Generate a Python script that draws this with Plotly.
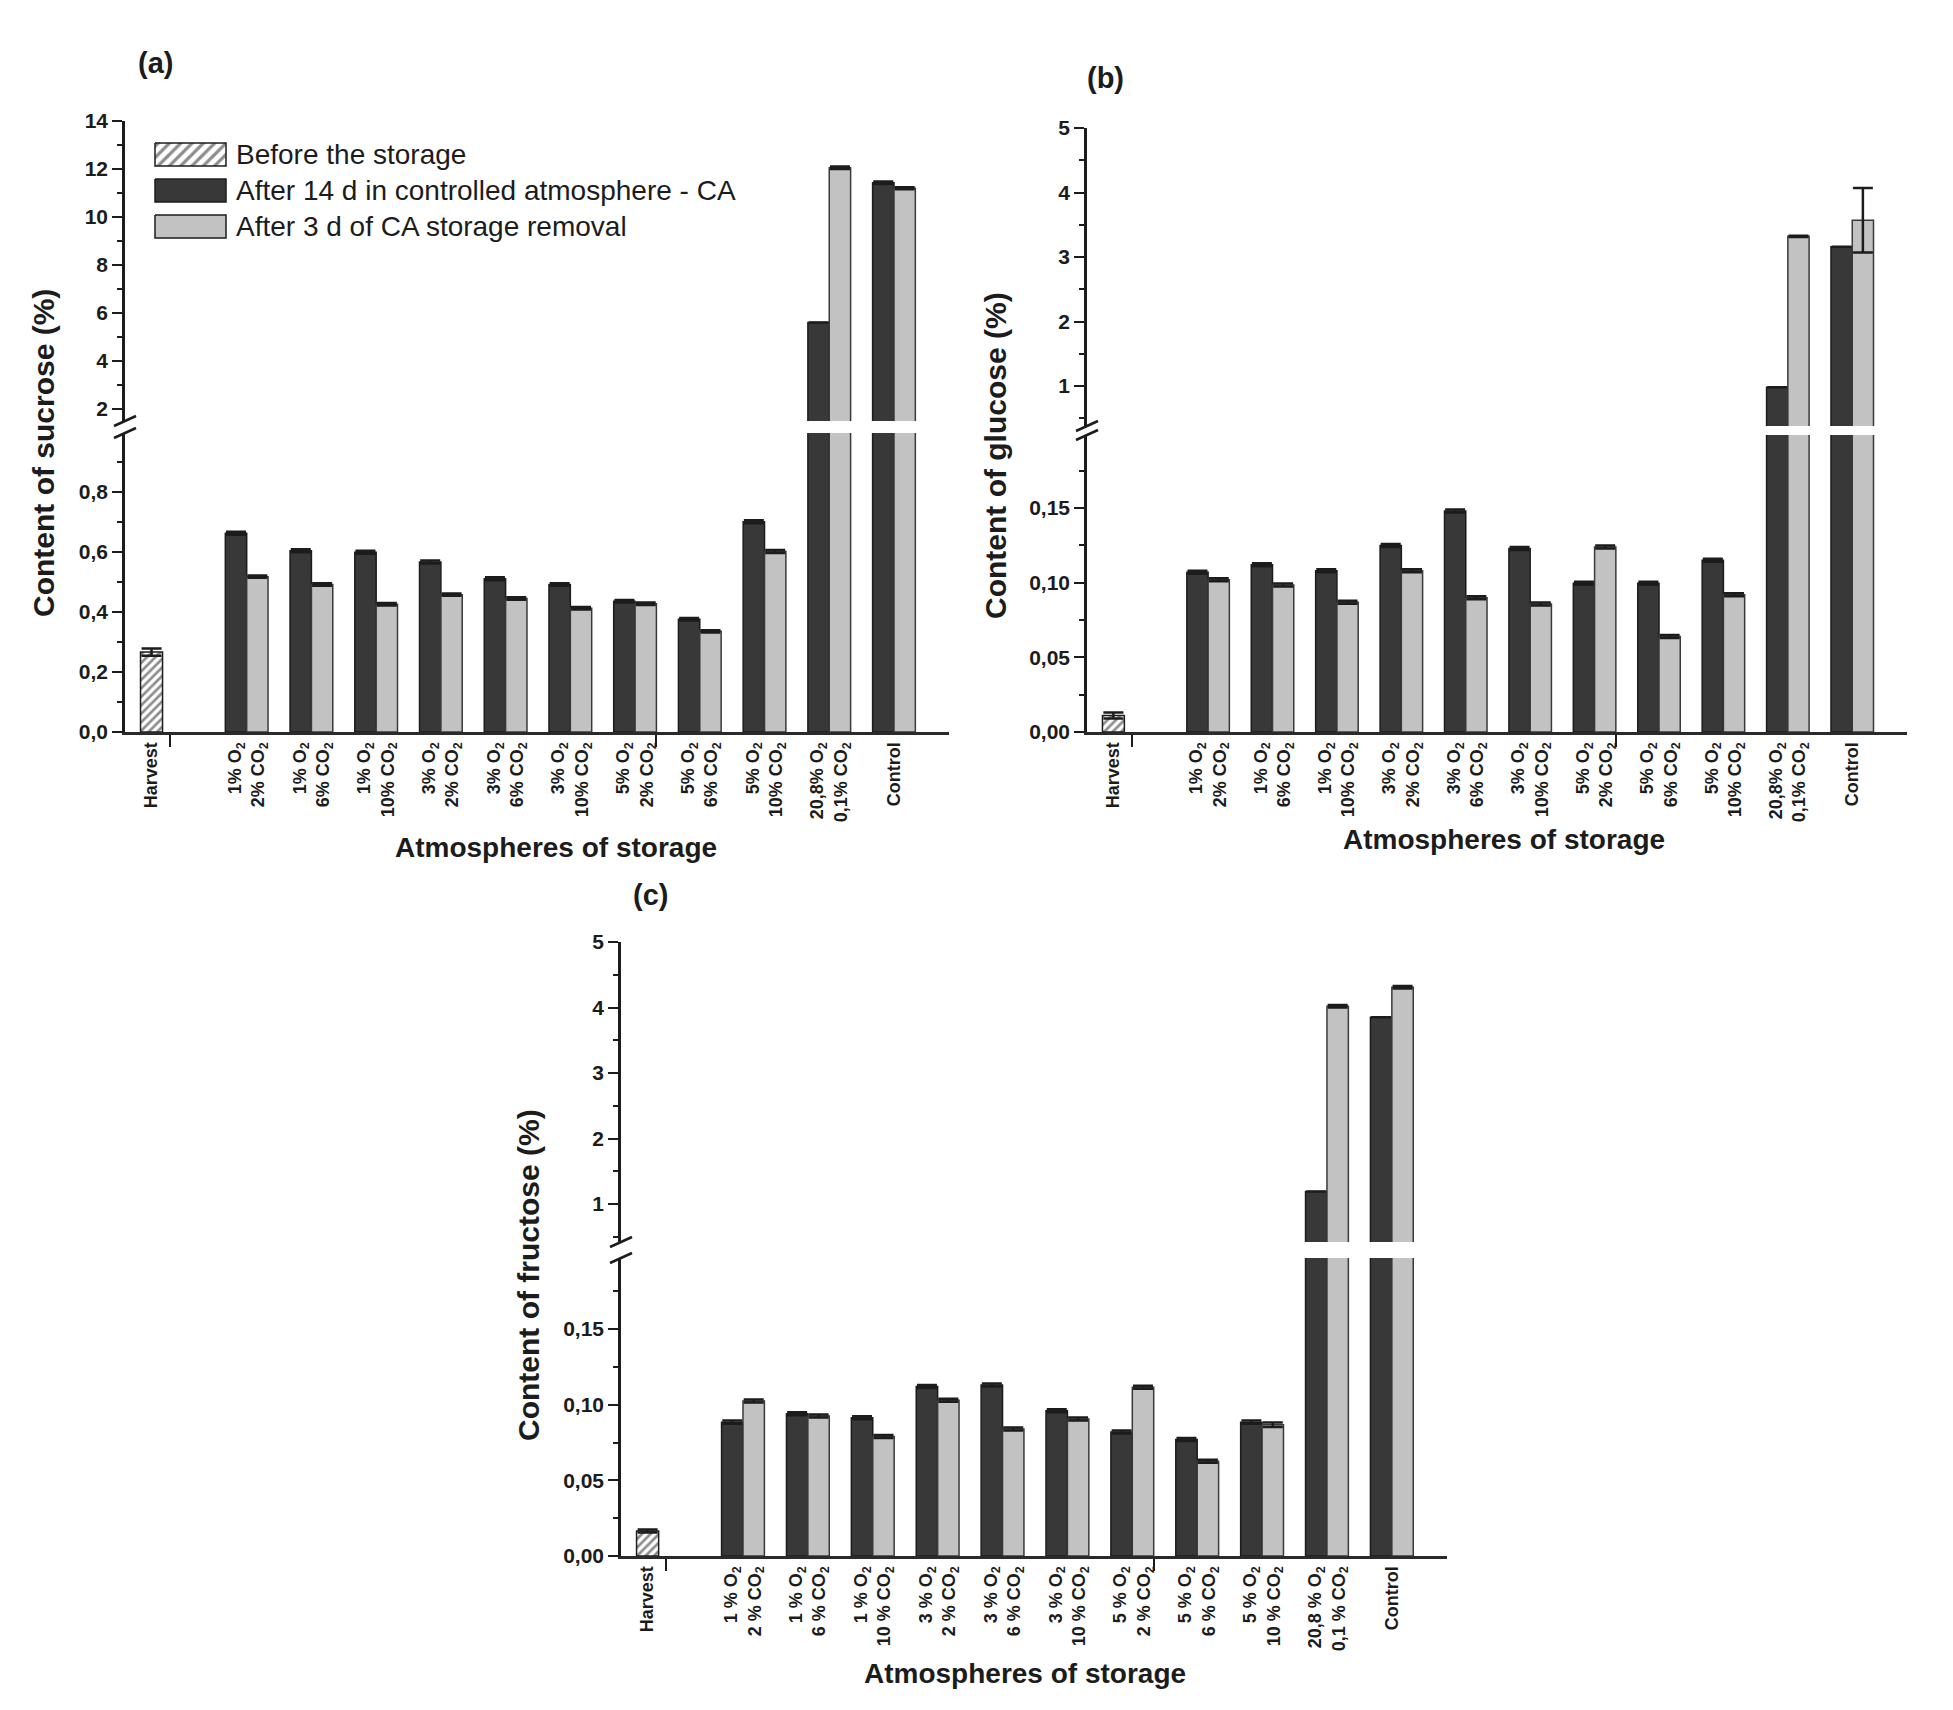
# Sugar content in fruit after controlled-atmosphere storage (a) sucrose, (b) glucose, (c) fructose
import plotly.graph_objects as go

W, H = 1953, 1710

# ---- data ----
atm_labels = [
    "1% O<sub>2</sub><br>2% CO<sub>2</sub>", "1% O<sub>2</sub><br>6% CO<sub>2</sub>",
    "1% O<sub>2</sub><br>10% CO<sub>2</sub>", "3% O<sub>2</sub><br>2% CO<sub>2</sub>",
    "3% O<sub>2</sub><br>6% CO<sub>2</sub>", "3% O<sub>2</sub><br>10% CO<sub>2</sub>",
    "5% O<sub>2</sub><br>2% CO<sub>2</sub>", "5% O<sub>2</sub><br>6% CO<sub>2</sub>",
    "5% O<sub>2</sub><br>10% CO<sub>2</sub>", "20,8% O<sub>2</sub><br>0,1% CO<sub>2</sub>",
    "Control",
]
atm_labels_c = [
    "1 % O<sub>2</sub><br>2 % CO<sub>2</sub>", "1 % O<sub>2</sub><br>6 % CO<sub>2</sub>",
    "1 % O<sub>2</sub><br>10 % CO<sub>2</sub>", "3 % O<sub>2</sub><br>2 % CO<sub>2</sub>",
    "3 % O<sub>2</sub><br>6 % CO<sub>2</sub>", "3 % O<sub>2</sub><br>10 % CO<sub>2</sub>",
    "5 % O<sub>2</sub><br>2 % CO<sub>2</sub>", "5 % O<sub>2</sub><br>6 % CO<sub>2</sub>",
    "5 % O<sub>2</sub><br>10 % CO<sub>2</sub>", "20,8 % O<sub>2</sub><br>0,1 % CO<sub>2</sub>",
    "Control",
]
legend_names = ["Before the storage", "After 14 d in controlled atmosphere - CA",
                "After 3 d of CA storage removal"]

sucrose_harvest = 0.266
sucrose_harvest_err = 0.012
sucrose_ca = [0.661, 0.603, 0.598, 0.566, 0.510, 0.491, 0.435, 0.375, 0.700, 5.59, 11.42]
sucrose_ca_err = [0.005, 0.005, 0.005, 0.005, 0.005, 0.004, 0.004, 0.004, 0.005, 0.0, 0.05]
sucrose_post = [0.517, 0.491, 0.425, 0.457, 0.444, 0.412, 0.427, 0.335, 0.601, 12.05, 11.19]
sucrose_post_err = [0.004, 0.004, 0.004, 0.004, 0.004, 0.004, 0.004, 0.004, 0.005, 0.05, 0.04]

glucose_harvest = 0.011
glucose_harvest_err = 0.002
glucose_ca = [0.107, 0.112, 0.108, 0.125, 0.148, 0.123, 0.0996, 0.0996, 0.115, 0.98, 3.16]
glucose_ca_err = [0.001, 0.001, 0.001, 0.001, 0.001, 0.001, 0.001, 0.001, 0.001, 0.0, 0.0]
glucose_post = [0.102, 0.0985, 0.087, 0.108, 0.090, 0.0857, 0.124, 0.064, 0.092, 3.32, 3.57]
glucose_post_err = [0.001, 0.001, 0.001, 0.001, 0.001, 0.001, 0.001, 0.001, 0.001, 0.01, 0.5]

fructose_harvest = 0.0165
fructose_harvest_err = 0.001
fructose_ca = [0.0885, 0.094, 0.0914, 0.112, 0.113, 0.096, 0.082, 0.077, 0.0885, 1.19, 3.85]
fructose_ca_err = [0.001, 0.001, 0.001, 0.001, 0.001, 0.001, 0.001, 0.001, 0.001, 0.0, 0.0]
fructose_post = [0.1025, 0.0925, 0.079, 0.103, 0.084, 0.0906, 0.1115, 0.0626, 0.0867, 4.02, 4.31]
fructose_post_err = [0.001, 0.001, 0.001, 0.001, 0.001, 0.001, 0.001, 0.001, 0.0015, 0.02, 0.02]

# ---- style ----
FONT = "Liberation Sans, Arial, sans-serif"
INK = "#1c1c1c"
DARK = "#383838"
LIGHT = "#c2c2c2"
HATCH = dict(shape="/", fgcolor=INK, bgcolor="white", size=6, solidity=0.45)

x_harvest = 0
x_treat = [1.47 + i for i in range(len(atm_labels))]
BW = 0.33

fig = go.Figure()


def px(xp):
    return xp / W


def py(yp):
    return 1 - yp / H


def err(arr):
    return dict(type="data", array=arr, visible=True, color=INK, thickness=2.5, width=10)


# each panel: data, axis names, pixel box of the plot areas, ranges, ticks
panels = [
    dict(tag="(a)", tag_pos=(155, 63), ytitle="Content of sucrose (%)", ytitle_pos=(44, 453),
         xtitle_pos=(556, 847), labels=atm_labels,
         h=sucrose_harvest, he=sucrose_harvest_err, ca=sucrose_ca, cae=sucrose_ca_err,
         po=sucrose_post, poe=sucrose_post_err,
         xa="x", ylo="y", yhi="y2", left=125, right=949,
         lo_px=(732, 433), hi_px=(421, 121), lo_rng=[0, 0.995], hi_rng=[1.48, 14],
         lo_dt=0.2, lo_fmt=".1f", hi_dt=2),
    dict(tag="(b)", tag_pos=(1105, 78), ytitle="Content of glucose (%)", ytitle_pos=(996, 456),
         xtitle_pos=(1504, 839), labels=atm_labels,
         h=glucose_harvest, he=glucose_harvest_err, ca=glucose_ca, cae=glucose_ca_err,
         po=glucose_post, poe=glucose_post_err,
         xa="x2", ylo="y3", yhi="y4", left=1087, right=1907,
         lo_px=(732, 435), hi_px=(426, 128), lo_rng=[0, 0.199], hi_rng=[0.38, 5],
         lo_dt=0.05, lo_fmt=".2f", hi_dt=1),
    dict(tag="(c)", tag_pos=(650, 895), ytitle="Content of fructose (%)", ytitle_pos=(528, 1275),
         xtitle_pos=(1025, 1673), labels=atm_labels_c,
         h=fructose_harvest, he=fructose_harvest_err, ca=fructose_ca, cae=fructose_ca_err,
         po=fructose_post, poe=fructose_post_err,
         xa="x3", ylo="y5", yhi="y6", left=621, right=1447,
         lo_px=(1556, 1258), hi_px=(1242, 942), lo_rng=[0, 0.197], hi_rng=[0.42, 5],
         lo_dt=0.05, lo_fmt=".2f", hi_dt=1),
]

annotations = []
shapes = []
layout_axes = {}


def axis_key(name):
    return ("xaxis" if name[0] == "x" else "yaxis") + name[1:]


for p in panels:
    # bars drawn in both halves of the broken axis
    for ya in (p["ylo"], p["yhi"]):
        fig.add_trace(go.Bar(
            x=[x_harvest], y=[p["h"]], width=0.34, offset=-0.17,
            marker=dict(color="white", line=dict(color=INK, width=1.5), pattern=HATCH),
            error_y=err([p["he"]]), xaxis=p["xa"], yaxis=ya, showlegend=False))
        fig.add_trace(go.Bar(
            x=x_treat, y=p["ca"], width=BW, offset=-BW,
            marker=dict(color=DARK, line=dict(color=INK, width=1.5)),
            error_y=err(p["cae"]), xaxis=p["xa"], yaxis=ya, showlegend=False))
        fig.add_trace(go.Bar(
            x=x_treat, y=p["po"], width=BW, offset=0,
            marker=dict(color=LIGHT, line=dict(color="#3a3a3a", width=1.5)),
            error_y=err(p["poe"]), xaxis=p["xa"], yaxis=ya, showlegend=False))

    layout_axes[axis_key(p["xa"])] = dict(
        domain=[px(p["left"]), px(p["right"])], range=[-0.41, 12.32], anchor=p["ylo"],
        tickmode="array", tickvals=[x_harvest] + x_treat, ticktext=["Harvest"] + p["labels"],
        tickangle=-90, ticks="", ticklabelstandoff=0,
        tickfont=dict(family=FONT, size=18, color=INK, weight="bold"),
        minor=dict(tickmode="array", tickvals=[0.29, 7.8], ticks="outside", ticklen=12,
                   tickwidth=2, tickcolor=INK),
        showline=True, linewidth=3, linecolor="#2a2a2a", showgrid=False, zeroline=False,
        automargin=False)

    ybase = dict(anchor=p["xa"], ticks="outside", ticklen=10, tickwidth=2, tickcolor=INK,
                 showline=True, linewidth=2.5, linecolor=INK, showgrid=False, zeroline=False,
                 tickfont=dict(family=FONT, size=21, color=INK, weight="bold"),
                 tickmode="linear", tick0=0, automargin=False)
    layout_axes[axis_key(p["ylo"])] = dict(
        ybase, domain=[py(p["lo_px"][0]), py(p["lo_px"][1])], range=p["lo_rng"],
        dtick=p["lo_dt"], tickformat=p["lo_fmt"],
        minor=dict(tick0=0, dtick=p["lo_dt"] / 2, ticks="outside", ticklen=5, tickwidth=2,
                   tickcolor=INK))
    layout_axes[axis_key(p["yhi"])] = dict(
        ybase, domain=[py(p["hi_px"][0]), py(p["hi_px"][1])], range=p["hi_rng"],
        dtick=p["hi_dt"], tickformat="d",
        minor=dict(tick0=0, dtick=p["hi_dt"] / 2, ticks="outside", ticklen=5, tickwidth=2,
                   tickcolor=INK))

    # break marks "//" on the y axis
    for edge in (p["lo_px"][1], p["hi_px"][0]):
        shapes.append(dict(type="line", xref="paper", yref="paper",
                           x0=px(p["left"] - 11), y0=py(edge + 5),
                           x1=px(p["left"] + 11), y1=py(edge - 5),
                           line=dict(color=INK, width=2.5)))

    annotations += [
        dict(text=p["tag"], x=px(p["tag_pos"][0]), y=py(p["tag_pos"][1]),
             font=dict(family=FONT, size=29, color=INK, weight="bold")),
        dict(text=p["ytitle"], x=px(p["ytitle_pos"][0]), y=py(p["ytitle_pos"][1]), textangle=-90,
             font=dict(family=FONT, size=30, color=INK, weight="bold")),
        dict(text="Atmospheres of storage", x=px(p["xtitle_pos"][0]), y=py(p["xtitle_pos"][1]),
             font=dict(family=FONT, size=28, color=INK, weight="bold")),
    ]

# ---- legend of panel (a), drawn with large swatches ----
rows = [154.5, 190.5, 226.5]
sw_left, sw_right, sw_h = 155, 226, 23
fills = [dict(fillcolor="white", fillpattern=dict(shape="/", fgcolor=INK, bgcolor="white",
                                                  size=8, solidity=0.4)),
         dict(fillcolor=DARK), dict(fillcolor=LIGHT)]
for c, f, name in zip(rows, fills, legend_names):
    fig.add_trace(go.Scatter(
        x=[sw_left, sw_right, sw_right, sw_left, sw_left],
        y=[c - sw_h / 2, c - sw_h / 2, c + sw_h / 2, c + sw_h / 2, c - sw_h / 2],
        mode="lines", fill="toself", line=dict(color=INK, width=1.5),
        xaxis="x4", yaxis="y7", hoverinfo="skip", showlegend=False, **f))
    annotations.append(dict(text=name, x=px(234), y=py(c), xanchor="left", yanchor="middle",
                            font=dict(family=FONT, size=28, color=INK)))

layout_axes["xaxis4"] = dict(domain=[px(150), px(232)], range=[150, 232], visible=False,
                             anchor="y7", fixedrange=True)
layout_axes["yaxis7"] = dict(domain=[py(245), py(140)], range=[245, 140], visible=False,
                             anchor="x4", fixedrange=True)

for a in annotations:
    a.update(xref="paper", yref="paper", showarrow=False)
    a.setdefault("xanchor", "center")
    a.setdefault("yanchor", "middle")

fig.update_layout(
    width=W, height=H, margin=dict(l=0, r=0, t=0, b=0, pad=0, autoexpand=False),
    paper_bgcolor="white", plot_bgcolor="rgba(0,0,0,0)",
    barmode="overlay", separators=", ", showlegend=False,
    font=dict(family=FONT, color=INK),
    annotations=annotations, shapes=shapes,
    **layout_axes,
)

# pin the graph to the window so page margins or scrolling cannot shift it
pin = """
var gd = document.getElementById('{plot_id}');
document.documentElement.style.overflow = 'hidden';
document.body.style.margin = '0';
document.body.style.overflow = 'hidden';
gd.style.position = 'fixed';
gd.style.left = '0px';
gd.style.top = '0px';
Plotly.relayout(gd, {width: window.innerWidth, height: window.innerHeight});
"""
fig.write_html("out.html", config={"displayModeBar": False}, post_script=pin)
